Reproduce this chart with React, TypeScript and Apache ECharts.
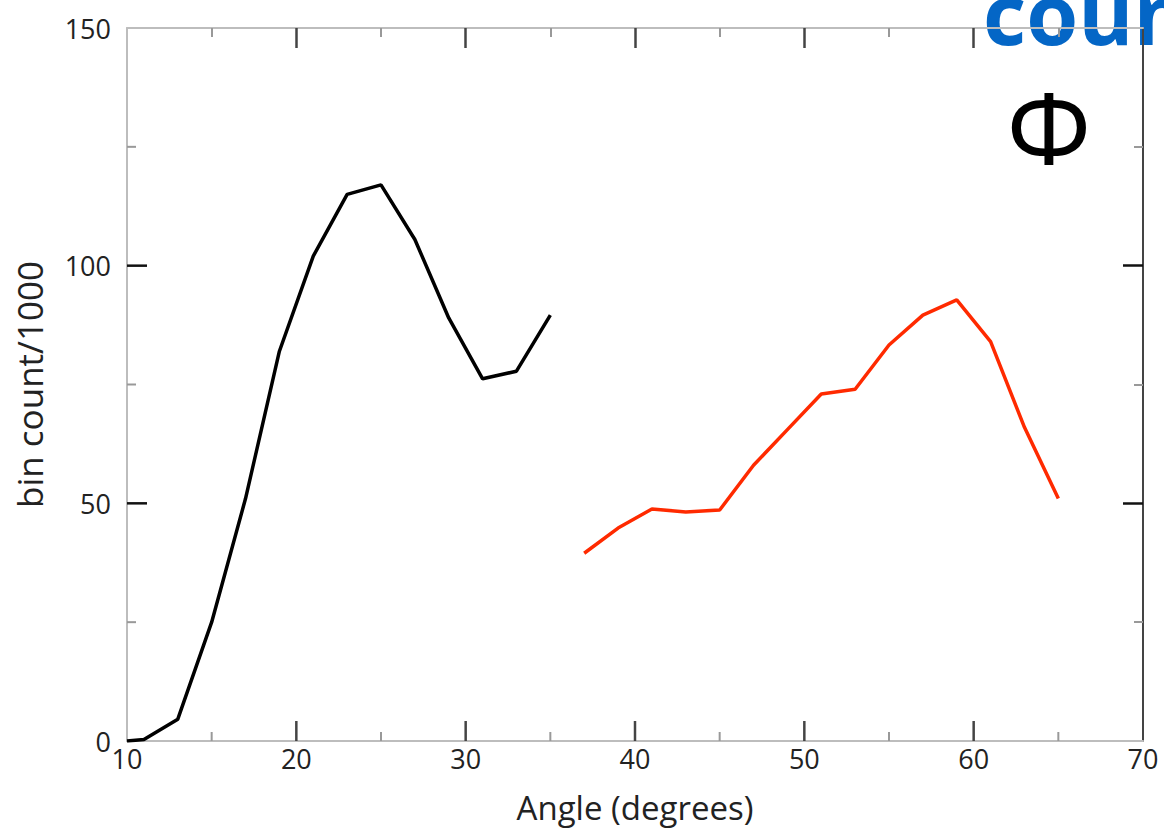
import React, { useEffect, useRef } from "react";
import * as echarts from "echarts";

const blackX = [10, 11, 13, 15, 17, 19, 21, 23, 25, 27, 29, 31, 33, 35];
const blackY = [0, 0.3, 4.6, 25, 51, 82, 102, 115, 117, 105.5, 89, 76.2, 77.8, 89.6];
const redX = [37, 39, 41, 43, 45, 47, 49, 51, 53, 55, 57, 59, 61, 63, 65];
const redY = [39.5, 44.8, 48.8, 48.2, 48.6, 58, 65.5, 73, 74, 83.3, 89.6, 92.8, 84, 66, 51];

const xMin = 10;
const xMax = 70;
const xStep = 10;
const xMajorTicks = [20, 30, 40, 50, 60];
const xMinorTicks = [15, 25, 35, 45, 55, 65];
const yMin = 0;
const yMax = 150;
const yStep = 50;
const yMajorTicks = [50, 100];
const yMinorTicks = [25, 75, 125];

const xTitle = "Angle (degrees)";
const yTitle = "bin count/1000";
const cornerWord = "coun";
const symbol = "Φ";

export default function App() {
  const ref = useRef<HTMLDivElement>(null);
  useEffect(() => {
    if (!ref.current) return;
    const chart = echarts.init(ref.current, null, { renderer: "svg" });
    const font = "'Open Sans', 'Noto Sans', sans-serif";
    const xTick = () => ({ show: true, inside: true, length: 20, customValues: xMajorTicks.slice(), lineStyle: { color: "#444", width: 2.5 } });
    const yTick = () => ({ show: true, inside: true, length: 20, customValues: yMajorTicks.slice(), lineStyle: { color: "#111", width: 2.5 } });
    const minorTick = () => ({ show: true, splitNumber: 2, length: 9, lineStyle: { color: "#999", width: 2 } });
    const lineGrey = () => ({ show: true, onZero: false, lineStyle: { color: "#bdbdbd", width: 2 } });

    // tick marks along bottom / left edges: [value, kind] kind 0 x-major, 1 x-minor, 2 y-major, 3 y-minor
    const tickData = [
      ...xMajorTicks.map((v) => [v, 0]),
      ...xMinorTicks.map((v) => [v, 1]),
      ...yMajorTicks.map((v) => [v, 2]),
      ...yMinorTicks.map((v) => [v, 3]),
    ];

    chart.setOption({
      animation: false,
      backgroundColor: "#ffffff",
      grid: { left: 127, right: 21, top: 28, bottom: 89, containLabel: false, outerBoundsMode: "none" },
      xAxis: [
        {
          type: "value",
          position: "bottom",
          min: xMin,
          max: xMax,
          interval: xStep,
          axisLine: lineGrey(),
          axisTick: { show: false },
          minorTick: { show: false },
          splitLine: { show: false },
          axisLabel: { color: "#222", fontSize: 27, fontFamily: font, margin: 4 },
          name: xTitle,
          nameLocation: "middle",
          nameGap: 50,
          nameTextStyle: { color: "#222", fontSize: 33, fontFamily: font },
        },
        {
          type: "value",
          position: "top",
          min: xMin,
          max: xMax,
          interval: xStep,
          axisLine: lineGrey(),
          axisTick: xTick(),
          minorTick: minorTick(),
          splitLine: { show: false },
          axisLabel: { show: false },
        },
      ],
      yAxis: [
        {
          type: "value",
          position: "left",
          min: yMin,
          max: yMax,
          interval: yStep,
          axisLine: lineGrey(),
          axisTick: { show: false },
          minorTick: { show: false },
          splitLine: { show: false },
          axisLabel: { color: "#222", fontSize: 27, fontFamily: font, margin: 16 },
          name: yTitle,
          nameLocation: "middle",
          nameGap: 80,
          nameRotate: 90,
          nameTextStyle: { color: "#222", fontSize: 35, fontFamily: font },
        },
        {
          type: "value",
          position: "right",
          min: yMin,
          max: yMax,
          interval: yStep,
          axisLine: { show: true, onZero: false, lineStyle: { color: "#444", width: 2 } },
          axisTick: yTick(),
          minorTick: minorTick(),
          splitLine: { show: false },
          axisLabel: { show: false },
        },
      ],
      series: [
        {
          type: "custom",
          silent: true,
          clip: false,
          xAxisIndex: 0,
          yAxisIndex: 0,
          data: tickData,
          renderItem: (params: any, api: any) => {
            const v = api.value(0);
            const k = api.value(1);
            if (k < 2) {
              const p = api.coord([v, yMin]);
              const len = k === 0 ? 20 : 9;
              return {
                type: "line",
                shape: { x1: p[0], y1: p[1], x2: p[0], y2: p[1] - len },
                style: { stroke: k === 0 ? "#444" : "#999", lineWidth: k === 0 ? 2.5 : 2 },
              };
            }
            const p = api.coord([xMin, v]);
            const len = k === 2 ? 20 : 9;
            return {
              type: "line",
              shape: { x1: p[0], y1: p[1], x2: p[0] + len, y2: p[1] },
              style: { stroke: k === 2 ? "#111" : "#999", lineWidth: k === 2 ? 2.5 : 2 },
            };
          },
        },
        {
          type: "line",
          data: blackX.map((x, i) => [x, blackY[i]]),
          showSymbol: false,
          lineStyle: { color: "#000", width: 3.5 },
          xAxisIndex: 0,
          yAxisIndex: 0,
        },
        {
          type: "line",
          data: redX.map((x, i) => [x, redY[i]]),
          showSymbol: false,
          lineStyle: { color: "#ff2a00", width: 3.5 },
          xAxisIndex: 0,
          yAxisIndex: 0,
        },
      ],
      graphic: [
        {
          type: "text",
          x: 983,
          y: 12,
          style: {
            text: cornerWord,
            fill: "#0466c6",
            fontSize: 84,
            fontWeight: "bold",
            fontFamily: font,
            align: "left",
            verticalAlign: "middle",
          },
        },
        {
          type: "text",
          x: 1049,
          y: 126,
          style: {
            text: symbol,
            fill: "#000",
            fontSize: 100,
            fontFamily: "'Noto Sans', 'DejaVu Sans', sans-serif",
            align: "center",
            verticalAlign: "middle",
          },
        },
      ],
    });
    return () => chart.dispose();
  }, []);
  return (
    <div
      ref={ref}
      style={{ position: "absolute", left: 0, top: 0, width: 1164, height: 830 }}
    />
  );
}
